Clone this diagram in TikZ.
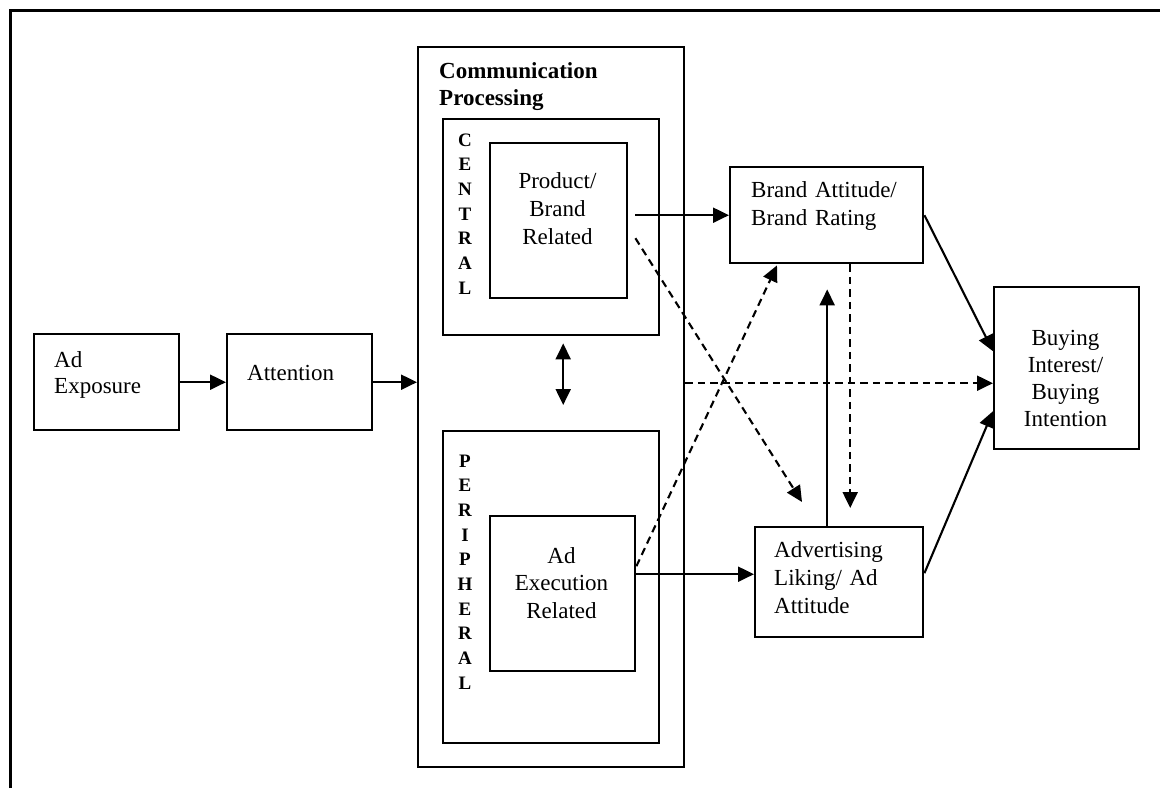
\documentclass[tikz,border=0pt]{standalone}
\usepackage{fontspec}
\setmainfont{Liberation Serif}
\usetikzlibrary{arrows.meta}
\begin{document}
\begin{tikzpicture}[x=1pt,y=-1pt,
  box/.style={draw,line width=2.4pt,inner sep=0pt,anchor=north west},
  txt/.style={inner sep=0pt,text width=170pt,font=\fontsize{23}{27.5}\selectfont},
  ltxt/.style={txt,anchor=base west,align=left},
  ctxt/.style={txt,anchor=base,align=center},
  vtxt/.style={inner sep=0pt,anchor=base,align=center,text width=20pt,font=\fontsize{19}{24.7}\selectfont\bfseries},
  arr/.style={line width=2.1pt,-{Triangle[length=16pt,width=15pt]}},
  darr/.style={line width=2.1pt,{Triangle[length=16pt,width=15pt]}-{Triangle[length=16pt,width=15pt]}},
  dsh/.style={arr,dash pattern=on 7.5pt off 5pt}
]
\useasboundingbox (0,0) rectangle (1160,788);
% outer frame
\draw[line width=3.2pt] (10.5,788) -- (10.5,10.5) -- (1160,10.5);

% boxes
\node[box,minimum width=145pt,minimum height=96pt] (adexp) at (33,333) {};
\node[box,minimum width=145pt,minimum height=96pt] (attn) at (226,333) {};
\node[box,minimum width=266pt,minimum height=720pt] (comm) at (417,46) {};
\node[box,minimum width=216pt,minimum height=216pt] (central) at (442,118) {};
\node[box,minimum width=137pt,minimum height=155pt] (prod) at (489,142) {};
\node[box,minimum width=216pt,minimum height=312pt] (periph) at (442,430) {};
\node[box,minimum width=145pt,minimum height=155pt] (exec) at (489,515) {};
\node[box,minimum width=193pt,minimum height=96pt] (brand) at (729,166) {};
\node[box,minimum width=168pt,minimum height=110pt] (adv) at (754,526) {};
\node[box,minimum width=145pt,minimum height=162pt] (buy) at (993,286) {};

% texts
\node[ltxt,font=\fontsize{23}{26}\selectfont] (adexpt) at (54,367) {Ad\\Exposure};
\node[ltxt] (attnt) at (247,380) {Attention};
\node[ltxt,font=\fontsize{23}{27}\selectfont\bfseries] (commt) at (439,78) {Communication\\Processing};
\node[vtxt] (centralt) at (465,146) {C\\E\\N\\T\\R\\A\\L};
\node[vtxt] (periopht) at (465,467) {P\\E\\R\\I\\P\\H\\E\\R\\A\\L};
\node[ctxt,font=\fontsize{23}{28}\selectfont] (prodt) at (557.5,188) {Product/\\Brand\\Related};
\node[ctxt] (exect) at (561.5,563) {Ad\\Execution\\Related};
\node[ltxt,font=\fontsize{23}{28.7}\selectfont] (brandt) at (751,197) {Brand Attitude/\\Brand Rating};
\node[ltxt,font=\fontsize{23}{28}\selectfont] (advt) at (774,557) {Advertising\\Liking/ Ad\\Attitude};
\node[ctxt,font=\fontsize{23}{27.3}\selectfont] (buyt) at (1065.5,345) {Buying\\Interest/\\Buying\\Intention};

% connectors
\draw[arr] (adexp.east) -- (attn.west);
\draw[arr] (attn.east) -- (attn.east -| comm.west);
\draw[arr] ([xshift=7pt]prod.east |- brand.west) -- (brand.west);
\draw[arr] ([yshift=19.5pt]exec.east) -- ([yshift=19.5pt]exec.east -| adv.west);
\draw[arr] (brand.east) -- ([yshift=17pt]buy.west);
\draw[arr] ([yshift=9pt]adv.east) -- ([yshift=-43pt]buy.west);
\draw[dsh] ([yshift=24pt]comm.east) -- ([yshift=-15pt]buy.west);
\draw[arr] ([xshift=-12pt]adv.north) -- ([xshift=-12pt,yshift=-25pt]adv.north |- brand.south);
\draw[dsh] ([xshift=23.5pt]brand.south) -- ([xshift=23.5pt,yshift=18pt]brand.south |- adv.north);
\draw[dsh] ([xshift=7pt,yshift=-17.5pt]prod.east) -- ([xshift=48pt,yshift=24pt]adv.north west);
\draw[dsh] ([yshift=27.5pt]exec.east) -- ([xshift=48pt,yshift=-1pt]brand.south west);
\draw[darr] ([xshift=12pt,yshift=-7pt]central.south) -- ([xshift=12pt,yshift=25pt]periph.north);
\end{tikzpicture}
\end{document}
